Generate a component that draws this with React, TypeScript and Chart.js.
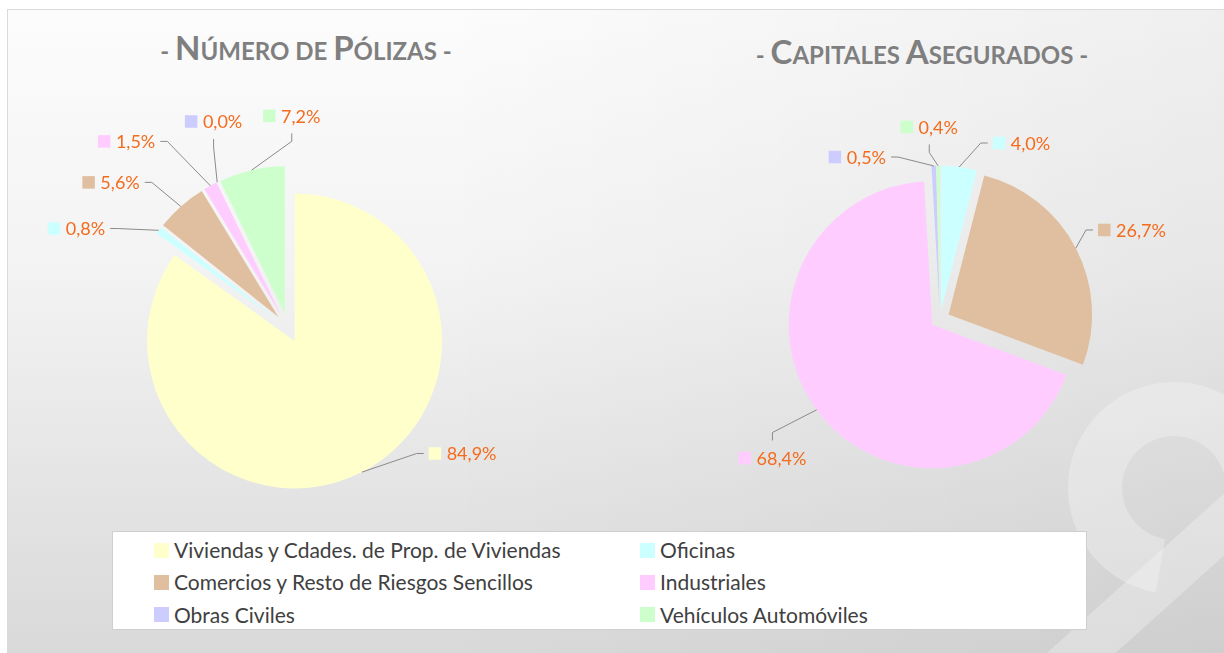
import React, { useEffect, useRef } from 'react';
import { Chart, registerables } from 'chart.js';

Chart.register(...registerables);

// ---------- data ----------
const categories = [
  'Viviendas y Cdades. de Prop. de Viviendas',
  'Oficinas',
  'Comercios y Resto de Riesgos Sencillos',
  'Industriales',
  'Obras Civiles',
  'Vehículos Automóviles',
];
const polizasValues = [84.9, 0.8, 5.6, 1.5, 0.0, 7.2];
const capitalesValues = [0.0, 4.0, 26.7, 68.4, 0.5, 0.4];
const polizasShowLabel = [true, true, true, true, true, true];
const capitalesShowLabel = [false, true, true, true, true, true];
const sliceColors = ['#ffffcc', '#ccffff', '#dfbf9f', '#ffccff', '#ccccff', '#ccffcc'];
const titlePolizas = { dash: '- ', big1: 'N', rest1: 'ÚMERO DE ', big2: 'P', rest2: 'ÓLIZAS -' };
const titleCapitales = { dash: '- ', big1: 'C', rest1: 'APITALES ', big2: 'A', rest2: 'SEGURADOS -' };

// ---------- layout (label placement relative to slice edge) ----------
type Place = { dx: number; dy: number; side: 'l' | 'r' | 't' | 'b' };
const polizasPlacement: Place[] = [
  { dx: 100.6, dy: -18.6, side: 'l' },
  { dx: -82.3, dy: -1.8, side: 'r' },
  { dx: -69.8, dy: -24.1, side: 'r' },
  { dx: -83.8, dy: -44.4, side: 'r' },
  { dx: -3.6, dy: -60.8, side: 'b' },
  { dx: 40.1, dy: -54.3, side: 'b' },
];
const capitalesPlacement: Place[] = [
  { dx: 0, dy: 0, side: 'l' },
  { dx: 62.3, dy: -24, side: 'l' },
  { dx: 56.1, dy: -18.2, side: 'l' },
  { dx: -44.2, dy: 48.2, side: 't' },
  { dx: -76.4, dy: -8.9, side: 'r' },
  { dx: -8.8, dy: -38.9, side: 'b' },
];

const ORANGE = '#f56b1c';
const FONT = 'Lato, "Open Sans", sans-serif';

const fmt = (v: number) => v.toFixed(1).replace('.', ',') + '%';

const explodePlugin = {
  id: 'explode',
  afterDatasetUpdate(chart: any, args: any, opts: any) {
    const d = opts.distance || 0;
    const meta = chart.getDatasetMeta(args.index);
    meta.data.forEach((arc: any) => {
      const mid = (arc.startAngle + arc.endAngle) / 2;
      arc.x += Math.cos(mid) * d;
      arc.y += Math.sin(mid) * d;
    });
  },
};

const labelPlugin = {
  id: 'sliceLabels',
  afterDatasetsDraw(chart: any, _args: any, opts: any) {
    const { ctx } = chart;
    const meta = chart.getDatasetMeta(0);
    const ds = chart.data.datasets[0];
    const places: Place[] = opts.placements;
    const show: boolean[] = opts.show;
    ctx.save();
    ctx.font = `18px ${FONT}`;
    meta.data.forEach((arc: any, i: number) => {
      if (!show[i]) return;
      const p = places[i];
      const mid = (arc.startAngle + arc.endAngle) / 2;
      const ax = arc.x + Math.cos(mid) * arc.outerRadius;
      const ay = arc.y + Math.sin(mid) * arc.outerRadius;
      const text = fmt(ds.data[i]);
      const tw = ctx.measureText(text).width;
      const sq = 12.5;
      const gap = 5.5;
      const bw = sq + gap + tw;
      const bh = 13;
      const cx = ax + p.dx;
      const cy = ay + p.dy;
      const left = cx - bw / 2;
      const right = cx + bw / 2;
      const top = cy - bh / 2;
      const bottom = cy + bh / 2;
      let ex = 0, ey = 0, sx = 0, sy = 0;
      if (p.side === 'l') { ex = left - 5; ey = cy; sx = ex - 7; sy = cy; }
      else if (p.side === 'r') { ex = right + 5; ey = cy; sx = ex + 7; sy = cy; }
      else if (p.side === 'b') { ex = cx; ey = bottom + 11; sx = cx; sy = ey + 8; }
      else { ex = cx; ey = top - 11; sx = cx; sy = ey - 8; }
      ctx.strokeStyle = '#8a8a8a';
      ctx.lineWidth = 1;
      ctx.beginPath();
      ctx.moveTo(ax, ay);
      ctx.lineTo(sx, sy);
      ctx.lineTo(ex, ey);
      ctx.stroke();
      ctx.fillStyle = ds.backgroundColor[i];
      ctx.fillRect(left, cy - sq / 2, sq, sq);
      ctx.fillStyle = ORANGE;
      ctx.textAlign = 'left';
      ctx.textBaseline = 'middle';
      ctx.fillText(text, left + sq + gap, cy + 1);
    });
    ctx.restore();
  },
};

function PieCanvas(props: {
  values: number[];
  show: boolean[];
  placements: Place[];
  radius: number;
  distance: number;
  left: number;
  top: number;
  size: number;
}) {
  const ref = useRef<HTMLCanvasElement | null>(null);
  useEffect(() => {
    if (!ref.current) return;
    const chart = new Chart(ref.current, {
      type: 'pie',
      data: {
        labels: categories,
        datasets: [
          {
            data: props.values,
            backgroundColor: sliceColors,
            borderWidth: 0,
          },
        ],
      },
      options: {
        animation: false,
        responsive: false,
        events: [],
        radius: props.radius,
        layout: { padding: 0 },
        plugins: {
          legend: { display: false },
          tooltip: { enabled: false },
          title: { display: false },
          explode: { distance: props.distance },
          sliceLabels: { placements: props.placements, show: props.show },
        } as any,
      } as any,
      plugins: [explodePlugin, labelPlugin],
    });
    const fonts = (document as any).fonts;
    if (fonts && fonts.ready) fonts.ready.then(() => chart.draw());
    return () => chart.destroy();
  }, []);
  return (
    <canvas
      ref={ref}
      width={props.size}
      height={props.size}
      style={{ position: 'absolute', left: props.left, top: props.top, width: props.size, height: props.size }}
    />
  );
}

function Title(props: { t: typeof titlePolizas; cx: number; top: number }) {
  const { t } = props;
  const big = { fontSize: 33 };
  return (
    <div
      style={{
        position: 'absolute',
        left: props.cx - 300,
        width: 600,
        top: props.top,
        textAlign: 'center',
        fontFamily: FONT,
        fontWeight: 700,
        color: '#7f7f7f',
        fontSize: 24,
        lineHeight: '40px',
        whiteSpace: 'nowrap',
      }}
    >
      {t.dash}
      <span style={big}>{t.big1}</span>
      {t.rest1}
      <span style={big}>{t.big2}</span>
      {t.rest2}
    </div>
  );
}

function Legend() {
  const colX = [41, 527];
  const rowY = [18, 50, 82.5];
  const order = [0, 1, 2, 3, 4, 5];
  return (
    <div
      style={{
        position: 'absolute',
        left: 112,
        top: 531,
        width: 973,
        height: 97,
        background: '#ffffff',
        border: '1px solid #cfcfcf',
        fontFamily: FONT,
        fontSize: 21,
        color: '#404040',
      }}
    >
      {order.map((ci, k) => (
        <div
          key={ci}
          style={{
            position: 'absolute',
            left: colX[k % 2],
            top: rowY[Math.floor(k / 2)] - 12,
            height: 24,
            display: 'flex',
            alignItems: 'center',
            whiteSpace: 'nowrap',
          }}
        >
          <span style={{ display: 'inline-block', width: 15, height: 15, background: sliceColors[ci], marginRight: 5 }} />
          <span style={{ lineHeight: '24px' }}>{categories[ci]}</span>
        </div>
      ))}
    </div>
  );
}

export default function App() {
  return (
    <div style={{ position: 'absolute', left: 0, top: 0, width: 1224, height: 653, overflow: 'hidden', background: '#ffffff' }}>
      <div
        style={{
          position: 'absolute',
          left: 7,
          top: 9,
          width: 1217,
          height: 644,
          borderLeft: '1px solid #dadada',
          borderTop: '1px solid #dadada',
          overflow: 'hidden',
          background:
            'linear-gradient(to right, rgba(0,0,0,0) 35%, rgba(0,0,0,0.05) 100%), linear-gradient(to bottom, #fcfcfc 0%, #f3f3f3 40%, #e6e6e6 70%, #d9d9d9 100%)',
        }}
      >
        <div
          style={{
            position: 'absolute',
            left: 1060,
            top: 372,
            width: 212,
            height: 212,
            boxSizing: 'border-box',
            borderRadius: '50%',
            border: '54px solid rgba(255,255,255,0.28)',
            borderBottomColor: 'transparent',
            transform: 'rotate(-35deg)',
          }}
        />
        <div
          style={{
            position: 'absolute',
            left: 1020,
            top: 660,
            width: 320,
            height: 46,
            background: 'rgba(255,255,255,0.28)',
            transform: 'rotate(-42deg)',
            transformOrigin: '0 0',
          }}
        />
      </div>
      <Title t={titlePolizas} cx={306} top={27} />
      <Title t={titleCapitales} cx={922} top={31} />
      <PieCanvas values={polizasValues} show={polizasShowLabel} placements={polizasPlacement} radius={147.5} distance={14.5} left={8} top={48} size={560} />
      <PieCanvas values={capitalesValues} show={capitalesShowLabel} placements={capitalesPlacement} radius={143.5} distance={9.7} left={660} top={39} size={560} />
      <Legend />
    </div>
  );
}
